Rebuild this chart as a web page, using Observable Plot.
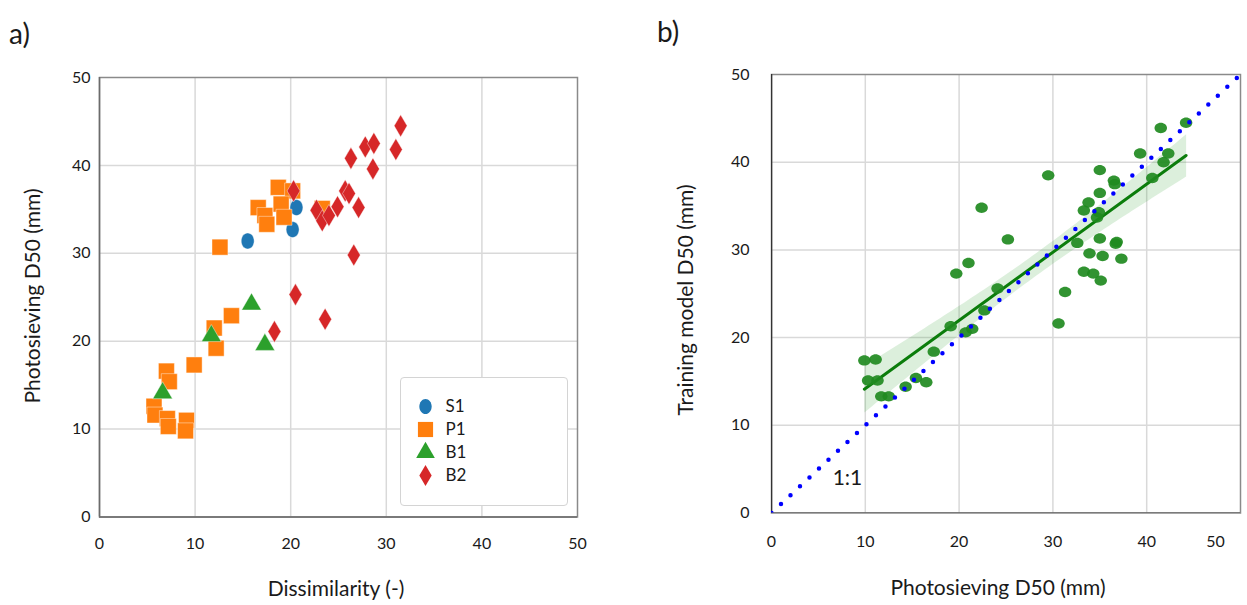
<!DOCTYPE html>
<html><head><meta charset="utf-8">
<script src="https://cdn.jsdelivr.net/npm/d3@7"></script>
<script src="https://cdn.jsdelivr.net/npm/@observablehq/plot@0.6"></script>
<style>
body{margin:0;background:#fff;width:1247px;height:605px;overflow:hidden;position:relative;font-family:Lato,"Open Sans",sans-serif;color:#1a1a1a}
.abs{position:absolute}
.tag{font-size:28px}
.xlab{font-size:21px;transform:translateX(-50%);white-space:nowrap}
.ylab{font-size:21px;transform:translate(-50%,-50%) rotate(-90deg);white-space:nowrap}
#legend{border:1.5px solid #d4d4d4;border-radius:4px;background:#fff}
svg{overflow:visible}
</style></head><body>
<div id="a" class="abs" style="left:0;top:0"></div>
<div id="b" class="abs" style="left:640px;top:0"></div>
<div id="legend" class="abs" style="left:400px;top:377px;width:166px;height:127px"></div>
<div class="abs tag" style="left:9px;top:16px">a)</div>
<div class="abs tag" style="left:657px;top:14px">b)</div>
<div class="abs ylab" style="left:31px;top:296px">Photosieving D50 (mm)</div>
<div class="abs xlab" style="left:336px;top:575px">Dissimilarity (-)</div>
<div class="abs ylab" style="left:684px;top:300px">Training model D50 (mm)</div>
<div class="abs xlab" style="left:998px;top:574px">Photosieving D50 (mm)</div>
<script>
// ---------- data: panel a ----------
const seriesNames = ["S1", "P1", "B1", "B2"];
const seriesColors = ["#1f77b4", "#ff7f0e", "#2ca02c", "#d62728"];
const s1X = [15.5, 20.2, 20.6];
const s1Y = [31.4, 32.7, 35.2];
const p1X = [12.6, 16.6, 17.3, 17.5, 18.7, 20.2, 19.0, 19.3, 23.3, 13.8, 12.0, 12.2, 9.9, 7.0, 7.3, 5.7, 5.8, 7.1, 7.2, 9.1, 9.0];
const p1Y = [30.7, 35.2, 34.3, 33.3, 37.5, 37.1, 35.6, 34.1, 35.1, 22.9, 21.5, 19.2, 17.3, 16.6, 15.4, 12.6, 11.6, 11.2, 10.3, 11.0, 9.8];
const b1X = [6.6, 11.7, 15.9, 17.3];
const b1Y = [14.1, 20.6, 24.2, 19.6];
const b2X = [20.3, 20.5, 18.3, 23.6, 26.6, 22.7, 23.3, 24.0, 24.9, 25.7, 26.1, 27.1, 26.3, 27.8, 28.7, 28.6, 31.0, 31.5];
const b2Y = [37.1, 25.3, 21.1, 22.5, 29.8, 34.9, 33.7, 34.3, 35.3, 37.1, 36.8, 35.2, 40.8, 42.1, 42.5, 39.6, 41.8, 44.5];
const ticksA = [0, 10, 20, 30, 40, 50];

// ---------- data: panel b ----------
const bX = [9.9, 11.1, 10.3, 11.3, 11.7, 12.5, 14.3, 15.4, 16.5, 17.3, 19.1, 20.7, 21.4, 22.7, 19.7, 21.0, 24.1, 22.4, 25.2, 29.5, 30.6, 31.3, 32.6, 33.3, 34.3, 35.1, 33.9, 35.3, 35.0, 36.8, 36.7, 37.3, 33.3, 33.8, 34.9, 34.7, 35.0, 35.0, 36.5, 36.6, 40.6, 39.3, 41.8, 42.3, 41.5, 44.2];
const bY = [17.4, 17.5, 15.1, 15.1, 13.3, 13.3, 14.4, 15.4, 14.9, 18.4, 21.3, 20.6, 21.0, 23.1, 27.3, 28.5, 25.6, 34.8, 31.2, 38.5, 21.6, 25.2, 30.8, 27.5, 27.3, 26.5, 29.6, 29.3, 31.3, 30.9, 30.7, 29.0, 34.5, 35.4, 34.3, 33.7, 36.5, 39.1, 37.9, 37.5, 38.2, 41.0, 40.0, 41.0, 43.9, 44.5];
const identityLine = [0, 50];
const identityLabel = {x: 8.1, y: 4.0, text: "1:1"};
const ticksB = [0, 10, 20, 30, 40];

// ---------- custom symbols ----------
function ellipseSymbol(fx, fy) {
  return {draw(ctx, size) {
    const s = Math.sqrt(size / Math.PI), rx = s * fx, ry = s * fy, k = 0.5523;
    ctx.moveTo(rx, 0);
    ctx.bezierCurveTo(rx, ry * k, rx * k, ry, 0, ry);
    ctx.bezierCurveTo(-rx * k, ry, -rx, ry * k, -rx, 0);
    ctx.bezierCurveTo(-rx, -ry * k, -rx * k, -ry, 0, -ry);
    ctx.bezierCurveTo(rx * k, -ry, rx, -ry * k, rx, 0);
    ctx.closePath();
  }};
}
const tallDiamond = {draw(ctx, size) {
  const a = Math.sqrt(size / 3.4), b = 1.7 * a;
  ctx.moveTo(0, -b); ctx.lineTo(a, 0); ctx.lineTo(0, b); ctx.lineTo(-a, 0); ctx.closePath();
}};
const seriesSymbols = [ellipseSymbol(0.9, 1.11), "square", "triangle", tallDiamond];
const seriesR = [7.2, 9, 7.3, 6.75];

const zip = (xs, ys, name) => xs.map((x, i) => ({x, y: ys[i], series: name}));
const aData = [zip(s1X, s1Y, "S1"), zip(p1X, p1Y, "P1"), zip(b1X, b1Y, "B1"), zip(b2X, b2Y, "B2")];

// ---------- panel a ----------
const plotA = Plot.plot({
  width: 620, height: 605,
  marginLeft: 99, marginRight: 43, marginTop: 77, marginBottom: 88.5,
  x: {domain: [0, 50]},
  y: {domain: [0, 50]},
  style: {fontFamily: "Lato, 'Open Sans', sans-serif", fontSize: "16px", color: "#1a1a1a"},
  marks: [
    Plot.gridX(ticksA.slice(1, -1), {stroke: "#d9d9d9", strokeOpacity: 1, strokeWidth: 1.5}),
    Plot.gridY(ticksA.slice(1, -1), {stroke: "#d9d9d9", strokeOpacity: 1, strokeWidth: 1.5}),
    Plot.frame({stroke: "#8a8a8a", strokeWidth: 1.5}),
    Plot.ruleX([0], {stroke: "#6b6b6b", strokeWidth: 1.5}),
    Plot.ruleY([0], {stroke: "#6b6b6b", strokeWidth: 1.5}),
    Plot.axisX(ticksA, {tickSize: 0, tickPadding: 21, fontSize: 16, label: null}),
    Plot.axisY(ticksA, {tickSize: 0, tickPadding: 9, fontSize: 16, label: null}),
    ...aData.map((d, i) => Plot.dot(d, {x: "x", y: "y", fill: seriesColors[i], symbol: seriesSymbols[i], r: seriesR[i], stroke: "white", strokeWidth: 0.6, strokeOpacity: 0.7}))
  ]
});
document.getElementById("a").append(plotA);

// ---------- legend (panel a) ----------
const legendData = seriesNames.map((name, i) => ({name, i}));
const legend = Plot.plot({
  width: 166, height: 127, margin: 0,
  x: {domain: [0, 1], range: [24, 44]},
  y: {domain: seriesNames, type: "point", range: [16, 108]},
  style: {fontFamily: "Lato, 'Open Sans', sans-serif", color: "#1a1a1a"},
  axis: null,
  marks: [
    ...legendData.map(d => Plot.dot([d], {x: () => 0, y: "name", fill: seriesColors[d.i], symbol: seriesSymbols[d.i], r: seriesR[d.i] * 0.95})),
    Plot.text(legendData, {x: () => 1, y: "name", text: "name", textAnchor: "start", fontSize: 17, fill: "#1a1a1a"})
  ]
});
document.getElementById("legend").append(legend);

// ---------- panel b ----------
const bData = bX.map((x, i) => ({x, y: bY[i]}));
const plotB = Plot.plot({
  width: 607, height: 605,
  marginLeft: 131, marginRight: 7, marginTop: 74, marginBottom: 92.5,
  x: {domain: [0, 50]},
  y: {domain: [0, 50]},
  clip: true,
  style: {fontFamily: "Lato, 'Open Sans', sans-serif", fontSize: "16px", color: "#1a1a1a"},
  marks: [
    Plot.gridX(ticksB.slice(1), {stroke: "#d9d9d9", strokeOpacity: 1, strokeWidth: 1.5}),
    Plot.gridY(ticksB.slice(1), {stroke: "#d9d9d9", strokeOpacity: 1, strokeWidth: 1.5}),
    Plot.frame({stroke: "#8a8a8a", strokeWidth: 1.5}),
    Plot.ruleX([0], {stroke: "#333", strokeWidth: 1.5}),
    Plot.ruleY([0], {stroke: "#333", strokeWidth: 1.5}),
    Plot.axisX(ticksB, {tickSize: 0, tickPadding: 23, fontSize: 16, label: null}),
    Plot.axisX([50], {tickSize: 0, tickPadding: 23, fontSize: 16, label: null, dx: -25}),
    Plot.axisY([0, 10, 20, 30, 40, 50], {tickSize: 0, tickPadding: 22, fontSize: 16, label: null}),
    Plot.linearRegressionY(bData, {x: "x", y: "y", stroke: "#0b7d0b", strokeWidth: 3, fill: "#2f9e2f", fillOpacity: 0.17, ci: 0.95, clip: true}),
    Plot.dot(bData, {x: "x", y: "y", fill: "#1f8a1f", fillOpacity: 0.92, symbol: ellipseSymbol(1.095, 0.913), r: 5.7, clip: true}),
    Plot.line(identityLine.map(v => ({x: v, y: v})), {x: "x", y: "y", stroke: "#0000ff", strokeWidth: 4.5, strokeDasharray: "0 13", strokeLinecap: "round", clip: true}),
    Plot.text([identityLabel], {x: "x", y: "y", text: "text", fontSize: 21, fill: "#1a1a1a"})
  ]
});
document.getElementById("b").append(plotB);
</script>
</body></html>
